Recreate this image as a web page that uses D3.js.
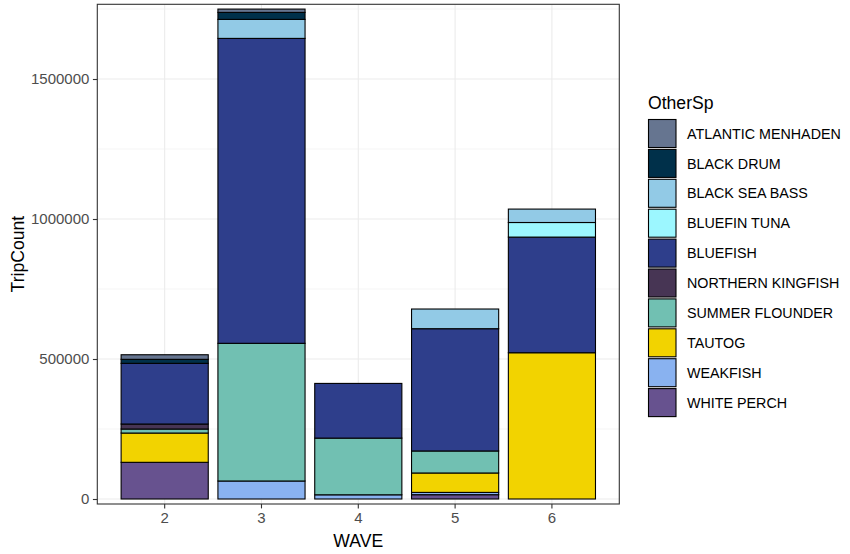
<!DOCTYPE html>
<html>
<head>
<meta charset="utf-8">
<script src="https://cdn.jsdelivr.net/npm/d3@7"></script>
<style>
  html, body { margin: 0; padding: 0; background: #ffffff; }
  svg { display: block; font-family: "Liberation Sans", Arial, sans-serif; }
</style>
</head>
<body>
<svg id="chart" width="850" height="554"></svg>
<script>
// ---- data ----
const waves = ["2", "3", "4", "5", "6"];
const species = ["ATLANTIC MENHADEN", "BLACK DRUM", "BLACK SEA BASS", "BLUEFIN TUNA", "BLUEFISH",
                 "NORTHERN KINGFISH", "SUMMER FLOUNDER", "TAUTOG", "WEAKFISH", "WHITE PERCH"];
const speciesColors = ["#667590", "#00304A", "#92CAE6", "#9CF7FF", "#2E3E8B",
                       "#473554", "#71C0B2", "#F2D300", "#89B2F0", "#67528F"];
// values per wave (2,3,4,5,6)
const atlanticMenhaden = [16400, 11800, 0, 0, 0];
const blackDrum        = [14300, 25000, 0, 0, 0];
const blackSeaBass     = [0, 67900, 0, 70300, 47900];
const bluefinTuna      = [0, 0, 0, 0, 52100];
const bluefish         = [216700, 1089000, 195300, 436700, 413000];
const northernKingfish = [17900, 0, 0, 0, 0];
const summerFlounder   = [14300, 491700, 202500, 78600, 0];
const tautog           = [104600, 0, 0, 69300, 522400];
const weakfish         = [0, 64300, 15000, 8200, 0];
const whitePerch       = [131000, 0, 0, 15400, 0];
const yTicks = [0, 500000, 1000000, 1500000];
const yMinorTicks = [250000, 750000, 1250000, 1750000];

const seriesValues = [atlanticMenhaden, blackDrum, blackSeaBass, bluefinTuna, bluefish,
                      northernKingfish, summerFlounder, tautog, weakfish, whitePerch];

const table = waves.map((w, i) => {
  const row = { wave: w };
  species.forEach((s, j) => { row[s] = seriesValues[j][i]; });
  return row;
});

// ---- layout ----
const svg = d3.select("#chart");
const panel = { left: 97.3, right: 619.3, top: 4.3, bottom: 504 };

const x = d3.scaleBand().domain(waves)
  .range([panel.left, panel.right])
  .paddingInner(0.1).paddingOuter(0.246);
const y = d3.scaleLinear().domain([-17860, 1766800]).range([panel.bottom, panel.top]);
const color = d3.scaleOrdinal().domain(species).range(speciesColors);

// panel background + grid
svg.append("rect").attr("x", panel.left).attr("y", panel.top)
  .attr("width", panel.right - panel.left).attr("height", panel.bottom - panel.top)
  .attr("fill", "#ffffff");

const grid = svg.append("g");
grid.selectAll(".minor").data(yMinorTicks).join("line")
  .attr("x1", panel.left).attr("x2", panel.right)
  .attr("y1", d => y(d)).attr("y2", d => y(d))
  .attr("stroke", "#F2F2F2").attr("stroke-width", 0.8);
grid.selectAll(".majorY").data(yTicks).join("line")
  .attr("x1", panel.left).attr("x2", panel.right)
  .attr("y1", d => y(d)).attr("y2", d => y(d))
  .attr("stroke", "#EBEBEB").attr("stroke-width", 1.1);
grid.selectAll(".majorX").data(waves).join("line")
  .attr("x1", d => x(d) + x.bandwidth() / 2).attr("x2", d => x(d) + x.bandwidth() / 2)
  .attr("y1", panel.top).attr("y2", panel.bottom)
  .attr("stroke", "#EBEBEB").attr("stroke-width", 1.1);

// stacked bars: first species on top
const stack = d3.stack().keys(species.slice().reverse());
const stacked = stack(table);

const bars = svg.append("g");
stacked.forEach(layer => {
  bars.append("g")
    .selectAll("rect")
    .data(layer.filter(d => d[1] - d[0] > 0))
    .join("rect")
    .attr("x", d => x(d.data.wave))
    .attr("width", x.bandwidth())
    .attr("y", d => y(d[1]))
    .attr("height", d => y(d[0]) - y(d[1]))
    .attr("fill", color(layer.key))
    .attr("stroke", "#000000")
    .attr("stroke-width", 1.1);
});

// panel border
svg.append("rect").attr("x", panel.left).attr("y", panel.top)
  .attr("width", panel.right - panel.left).attr("height", panel.bottom - panel.top)
  .attr("fill", "none").attr("stroke", "#333333").attr("stroke-width", 1.1);

// axes
const yAxis = svg.append("g").attr("transform", `translate(${panel.left},0)`)
  .call(d3.axisLeft(y).tickValues(yTicks).tickFormat(d3.format("d")).tickSize(4.4).tickPadding(3.5));
const xAxis = svg.append("g").attr("transform", `translate(0,${panel.bottom})`)
  .call(d3.axisBottom(x).tickSize(4.4).tickPadding(3.5));
[yAxis, xAxis].forEach(a => {
  a.select(".domain").remove();
  a.selectAll(".tick line").attr("stroke", "#333333").attr("stroke-width", 1.1);
  a.selectAll(".tick text").attr("fill", "#4D4D4D")
    .style("font-size", "15px").style("font-family", "'Liberation Sans', Arial, sans-serif");
});

// axis titles
svg.append("text").attr("x", (panel.left + panel.right) / 2).attr("y", 547)
  .attr("text-anchor", "middle").attr("fill", "#000000")
  .style("font-size", "17.6px").text("WAVE");
svg.append("text")
  .attr("transform", `translate(24,${(panel.top + panel.bottom) / 2}) rotate(-90)`)
  .attr("text-anchor", "middle").attr("fill", "#000000")
  .style("font-size", "17.6px").text("TripCount");

// legend
const legend = svg.append("g");
legend.append("text").attr("x", 648).attr("y", 108.5)
  .attr("fill", "#000000").style("font-size", "17.6px").text("OtherSp");
const item = legend.selectAll(".item").data(species).join("g")
  .attr("transform", (d, i) => `translate(648.5,${119.5 + i * 29.9})`);
item.append("rect").attr("width", 27.5).attr("height", 28)
  .attr("fill", d => color(d)).attr("stroke", "#000000").attr("stroke-width", 1.1);
item.append("text").attr("x", 38.5).attr("y", 14).attr("dy", "0.36em")
  .attr("fill", "#000000").style("font-size", "14.3px").text(d => d);
</script>
</body>
</html>
